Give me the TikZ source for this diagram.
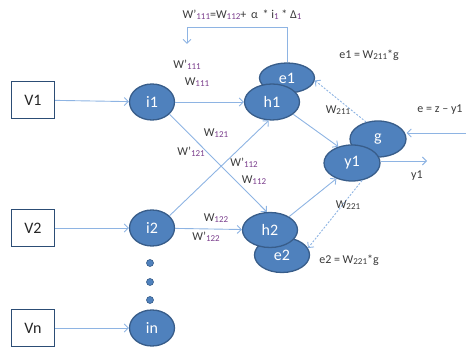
\documentclass[tikz,border=0pt]{standalone}
\usepackage{fontspec}
\setmainfont{Carlito}
\usetikzlibrary{arrows.meta,shapes.geometric}

\definecolor{nodefill}{HTML}{4F81BD}
\definecolor{nodeline}{HTML}{385D8A}
\definecolor{wirecol}{HTML}{8EB4E3}
\definecolor{boxline}{HTML}{2C4D75}
\definecolor{labtext}{HTML}{3A3A3A}
\definecolor{subtext}{HTML}{7A3D8C}

% weight subscripts: purple on the input side, grey on the output side
\newcommand{\sbc}[1]{\raisebox{-0.2ex}{\fontsize{9}{9}\selectfont\color{subtext}#1}}
\newcommand{\sbg}[1]{\raisebox{-0.15ex}{\fontsize{9}{9}\selectfont #1}}

\tikzset{
  neuron/.style={ellipse, draw=nodeline, fill=nodefill, line width=1.3pt,
    text=white, font=\fontsize{16}{16}\selectfont, inner sep=0pt,
    minimum width=55pt, minimum height=36pt},
  inbox/.style={rectangle, draw=boxline, fill=white, line width=1.3pt,
    text=black!85, font=\fontsize{16}{16}\selectfont, inner sep=0pt,
    minimum width=43pt, minimum height=37pt},
  wire/.style={draw=wirecol, line width=0.9pt,
    -{Straight Barb[length=4pt,width=8pt]}},
  backwire/.style={wire, dashed, dash pattern=on 2pt off 1.5pt},
  wlabel/.style={text=labtext, font=\fontsize{12}{12}\selectfont, inner sep=0pt},
  dot/.style={circle, fill=nodefill, draw=nodeline, line width=0.6pt,
    minimum size=7pt, inner sep=0pt}
}

\begin{document}
\begin{tikzpicture}[x=1pt,y=-1pt]
\useasboundingbox (0,0) rectangle (466,352);

% input boxes
\node[inbox] (V1) at (33,100) {V1};
\node[inbox] (V2) at (33,228) {V2};
\node[inbox] (Vn) at (33,328) {Vn};

% input layer
\node[neuron, minimum width=45pt] (i1) at (152,102) {i1};
\node[neuron, minimum width=45pt] (i2) at (152,228) {i2};
\node[neuron, minimum width=45pt] (in) at (152,328) {in};
\node[dot] (d1) at (150,263) {};
\node[dot] (d2) at (150,282) {};
\node[dot] (d3) at (150,300) {};

% hidden layer with error units
\node[neuron, minimum height=30pt] (e1) at (287,78) {e1};
\node[neuron] (h1) at (272,102) {h1};
\node[neuron, minimum height=35pt] (e2) at (282,255) {e2};
\node[neuron, minimum height=35pt] (h2) at (270,230) {h2};

% output unit and its error unit
\node[neuron, minimum width=56pt] (g) at (378,139) {g};
\node[neuron, minimum width=56pt] (y1) at (352,163) {y1};

% free ends
\coordinate (yout) at (427,161);
\coordinate (ein) at (466,133);
\coordinate (fbcorner) at (187,27);
\coordinate (fbend) at (187,44);

% forward connections
\draw[wire] (V1) -- (i1);
\draw[wire] (V2) -- (i2);
\draw[wire] (Vn) -- (in);
\draw[wire] (i1) -- (h1);
\draw[wire] (i1.-35) -- (h2.100);
\draw[wire] (i2.35) -- (h1.-100);
\draw[wire] (i2) -- (h2);
\draw[wire] (h1.-30) -- (y1.130);
\draw[wire] (h2.35) -- (y1.-135);
\draw[wire] (y1.east |- yout) -- (yout);
\draw[wire] (ein) -- (g.east |- ein);

% error back-propagation
\draw[backwire] (g.125) -- (e1.-5);
\draw[backwire] (y1.-60) -- (e2.15);
\draw[wire] (e1.north) |- (fbcorner) -- (fbend);

% weight labels
\node[wlabel] (lwp111) at (187,65) {W'\sbc{111}};
\node[wlabel] (lw111) at (197,82) {W\sbc{111}};
\node[wlabel] (lw121) at (216,133) {W\sbc{121}};
\node[wlabel] (lwp121) at (191,152) {W'\sbc{121}};
\node[wlabel] (lwp112) at (244,163) {W'\sbc{112}};
\node[wlabel] (lw112) at (254,180) {W\sbc{112}};
\node[wlabel] (lw122) at (216,218) {W\sbc{122}};
\node[wlabel] (lwp122) at (206,237) {W'\sbc{122}};
\node[wlabel] (lw211) at (338,110) {W\sbg{211}};
\node[wlabel] (lw221) at (348,205) {W\sbg{221}};

% equations
\node[wlabel] (eqe1) at (369,55) {e1 = W\sbg{211}*g};
\node[wlabel] (eqe2) at (349,260) {e2 = W\sbg{221}*g};
\node[wlabel] (eqerr) at (440,110) {e = z – y1};
\node[wlabel] (lyout) at (417,176) {y1};
\node[wlabel] (eqw) at (242,15) {W'\sbc{111}=W\sbc{112}+ \,α \,* i\sbc{1} * Δ\sbc{1}};
\end{tikzpicture}
\end{document}
